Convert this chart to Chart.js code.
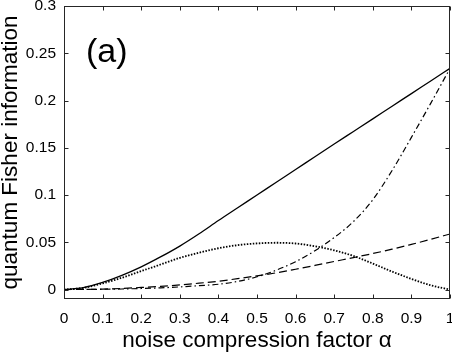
<!DOCTYPE html>
<html>
<head>
<meta charset="utf-8">
<script src="https://cdn.jsdelivr.net/npm/chart.js@4.4.0/dist/chart.umd.min.js"></script>
<style>
  html, body { margin: 0; padding: 0; background: #fff; }
  #wrap { width: 452px; height: 356px; }
</style>
</head>
<body>
<div id="wrap"><canvas id="qfiChart"></canvas></div>
<script>
// --- DATA ---
const alphaValues = [0, 0.05, 0.1, 0.15, 0.2, 0.25, 0.3, 0.35, 0.4, 0.45, 0.5,
                     0.55, 0.6, 0.65, 0.7, 0.75, 0.8, 0.85, 0.9, 0.95, 1];
const solidQFI   = [0, 0.002, 0.0075, 0.015, 0.024, 0.0345, 0.046, 0.059, 0.073, 0.0865, 0.1,
                    0.1135, 0.127, 0.1405, 0.154, 0.1673, 0.1806, 0.194, 0.2073, 0.2207, 0.234];
const dashDotQFI = [0, 0.0001, 0.0003, 0.0006, 0.0011, 0.0018, 0.0028, 0.0041, 0.0056, 0.0086, 0.0135,
                    0.0205, 0.0295, 0.041, 0.055, 0.072, 0.095, 0.126, 0.161, 0.197, 0.234];
const dottedQFI  = [0, 0.0018, 0.0065, 0.0125, 0.0195, 0.0265, 0.0335, 0.039, 0.0437, 0.047, 0.0488,
                    0.0495, 0.0487, 0.0458, 0.0415, 0.0355, 0.0275, 0.019, 0.0113, 0.0045, 0];
const dashedQFI  = [0, 0.0001, 0.0005, 0.0012, 0.0022, 0.0034, 0.0049, 0.0067, 0.0088, 0.0115, 0.0145,
                    0.0177, 0.0215, 0.0255, 0.0297, 0.0338, 0.0381, 0.0427, 0.0478, 0.0531, 0.0588];
const xTicks = [0, 0.1, 0.2, 0.3, 0.4, 0.5, 0.6, 0.7, 0.8, 0.9, 1];
const yTicks = [0, 0.05, 0.1, 0.15, 0.2, 0.25, 0.3];

const FONT = "'Liberation Sans', Arial, Helvetica, sans-serif";
const AXIS_COLOR = '#262626';

function toPoints(ys) {
    return alphaValues.map((a, i) => ({ x: a, y: ys[i] }));
}

function curve(values, dash, width) {
    return {
        data: toPoints(values),
        borderColor: '#000',
        borderWidth: width,
        borderDash: dash,
        pointRadius: 0,
        fill: false,
        cubicInterpolationMode: 'monotone'
    };
}

// MATLAB-style box with inward ticks on all four sides, plus the panel tag
const boxTicks = {
    id: 'boxTicks',
    afterDraw(chart) {
        const { ctx, chartArea: a, scales: { x, y } } = chart;
        const L = a.left + 0.5, R = a.right - 0.5, T = a.top + 0.5, B = a.bottom - 0.5;
        const len = 4;
        ctx.save();
        ctx.strokeStyle = AXIS_COLOR;
        ctx.lineWidth = 1;
        ctx.strokeRect(L, T, R - L, B - T);
        ctx.beginPath();
        xTicks.forEach(v => {
            const px = Math.round(x.getPixelForValue(v)) + 0.5;
            ctx.moveTo(px, B); ctx.lineTo(px, B - len);
            ctx.moveTo(px, T); ctx.lineTo(px, T + len);
        });
        yTicks.forEach(v => {
            const py = Math.round(y.getPixelForValue(v)) + 0.5;
            ctx.moveTo(L, py); ctx.lineTo(L + len, py);
            ctx.moveTo(R, py); ctx.lineTo(R - len, py);
        });
        ctx.stroke();
        ctx.fillStyle = '#000';
        ctx.font = '34px ' + FONT;
        ctx.textBaseline = 'alphabetic';
        ctx.fillText('(a)', 86, 62);
        ctx.restore();
    }
};

new Chart(document.getElementById('qfiChart').getContext('2d'), {
    type: 'line',
    data: {
        datasets: [
            curve(solidQFI, [], 1.3),
            curve(dashDotQFI, [6, 3, 1.5, 3], 1.2),
            curve(dottedQFI, [1.5, 1.5], 1.8),
            curve(dashedQFI, [8, 4], 1.2)
        ]
    },
    options: {
        responsive: true,
        maintainAspectRatio: false,
        animation: false,
        layout: { padding: { top: 6, right: 2, left: 0, bottom: 0 } },
        plugins: { legend: { display: false }, tooltip: { enabled: false } },
        scales: {
            x: {
                type: 'linear',
                min: 0,
                max: 1,
                grid: { display: false, drawTicks: false },
                border: { display: false },
                afterBuildTicks: s => { s.ticks = xTicks.map(v => ({ value: v })); },
                afterFit: s => { s.height = 57; s.paddingLeft = 0; s.paddingRight = 0; },
                ticks: {
                    color: '#000',
                    padding: 10,
                    maxRotation: 0,
                    font: { family: FONT, size: 15.5 },
                    callback: v => String(v)
                },
                title: {
                    display: true,
                    text: 'noise compression factor α',
                    color: '#000',
                    font: { family: FONT, size: 22.5, lineHeight: 1 },
                    padding: { top: 0, bottom: 3.5 }
                }
            },
            y: {
                type: 'linear',
                min: -0.01,
                max: 0.3,
                grid: { display: false, drawTicks: false },
                border: { display: false },
                afterBuildTicks: s => { s.ticks = yTicks.map(v => ({ value: v })); },
                afterFit: s => { s.width = 64; s.paddingTop = 0; s.paddingBottom = 0; },
                ticks: {
                    color: '#000',
                    padding: 8,
                    font: { family: FONT, size: 15.5 },
                    callback: v => String(v)
                },
                title: {
                    display: true,
                    text: 'quantum Fisher information',
                    color: '#000',
                    font: { family: FONT, size: 22.5, lineHeight: 1 },
                    padding: { top: 0, bottom: 0 }
                }
            }
        }
    },
    plugins: [boxTicks]
});
</script>
</body>
</html>
